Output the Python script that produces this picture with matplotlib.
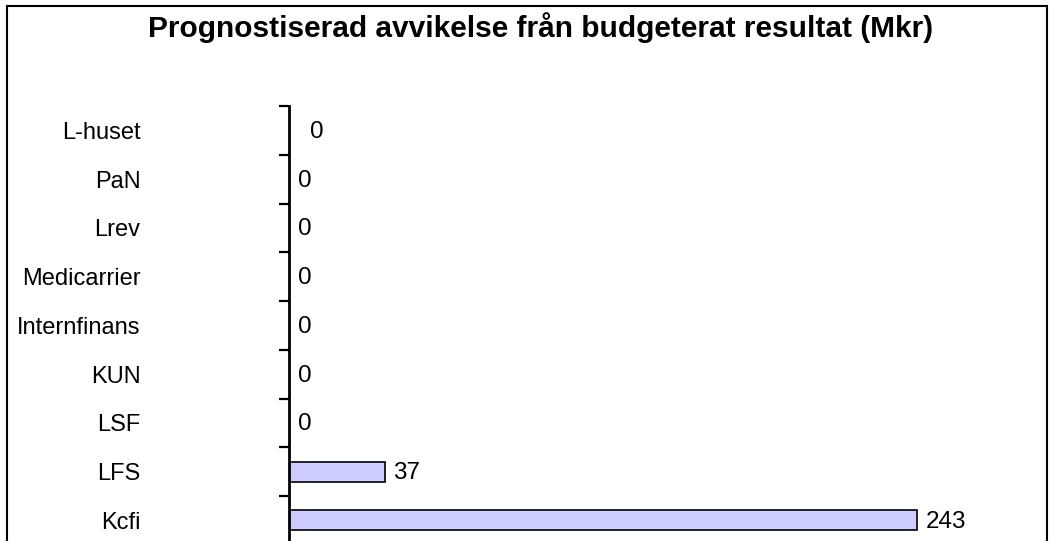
import matplotlib
matplotlib.use("Agg")
import matplotlib.pyplot as plt
from matplotlib.patches import Rectangle
import numpy as np

# Data (top to bottom in the chart)
categories = ["L-huset", "PaN", "Lrev", "Medicarrier", "Internfinans",
              "KUN", "LSF", "LFS", "Kcfi"]
values = [0, 0, 0, 0, 0, 0, 0, 37, 243]
title = "Prognostiserad avvikelse från budgeterat resultat (Mkr)"

plt.rcParams['font.family'] = ['Liberation Sans', 'DejaVu Sans']

W, H = 1049, 541
fig = plt.figure(figsize=(W / 100, H / 100), dpi=100)

# outer chart frame (its bottom edge is cut off by the image)
fig.patches.append(Rectangle((7 / W, -0.05), (1047 - 7) / W, 0.05 + (H - 6) / H,
                             transform=fig.transFigure, fill=False,
                             edgecolor='black', linewidth=1.5))

# axes placed so that the category axis runs off the bottom of the image
ax_left, ax_top = 289, 106
px_per_cat = 48.75
px_per_unit = 2.585
ax_w = 290 * px_per_unit
ax_h = H - ax_top
ax = fig.add_axes([ax_left / W, 0, ax_w / W, ax_h / H])

n = len(categories)
ypos = np.arange(n)[::-1]  # Kcfi at 0, L-huset at top
ax.barh(ypos, values, height=0.41, color='#CCCCFF', edgecolor='black',
        linewidth=1.2, zorder=2)

ax.set_xlim(0, 290)
ax.set_ylim(n - 0.5 - ax_h / px_per_cat, n - 0.5)

for sp in ['top', 'right', 'bottom']:
    ax.spines[sp].set_visible(False)
ax.spines['left'].set_linewidth(2.0)
ax.set_xticks([])

ax.set_yticks(ypos)
ax.set_yticklabels(categories, fontsize=17)
ax.tick_params(axis='y', which='major', length=0, pad=107)
ax.set_yticks(np.arange(n) + 0.5, minor=True)
ax.tick_params(axis='y', which='minor', direction='out', length=7, width=1.6)

# value labels; first label sits a bit further out as in the original
offsets = [21, 9, 9, 9, 9, 9, 9, 8, 9]
for y, v, off in zip(ypos, values, offsets):
    ax.annotate(str(v), (v, y), xytext=(off * 0.72, -1), textcoords='offset points',
                ha='left', va='center', fontsize=17.5)

fig.text(541 / W, 1 - 28 / H, title, ha='center', va='center',
         fontsize=21.5, fontweight='bold')

fig.savefig("out.png", dpi=100)
